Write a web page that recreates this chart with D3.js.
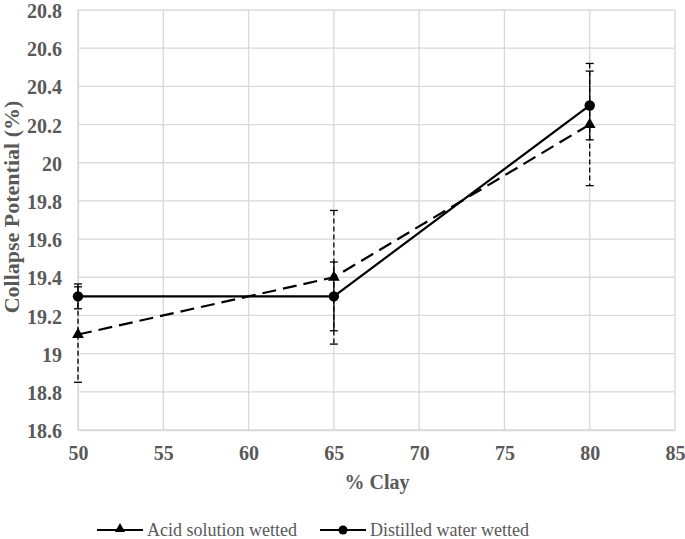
<!DOCTYPE html>
<html><head><meta charset="utf-8">
<script src="https://cdn.jsdelivr.net/npm/d3@7"></script>
<style>body{margin:0;background:#fff;}</style>
</head><body><svg id="c" width="685" height="539" font-family="Liberation Serif"></svg>
<script>
const clay = [50, 65, 80];
const acidValues = [19.1, 19.4, 20.2];
const acidErrors = [0.25, 0.35, 0.32];
const waterValues = [19.3, 19.3, 20.3];
const waterErrors = [0.065, 0.18, 0.18];
const xTicks = [50, 55, 60, 65, 70, 75, 80, 85];
const yTicks = [18.6, 18.8, 19, 19.2, 19.4, 19.6, 19.8, 20, 20.2, 20.4, 20.6, 20.8];
const seriesNames = ["Acid solution wetted", "Distilled water wetted"];

const FONT = "Liberation Serif";
const svg = d3.select("#c");
const L = 78, R = 675, T = 10, B = 430;
const x = d3.scaleLinear().domain([50, 85]).range([L, R]);
const y = d3.scaleLinear().domain([18.6, 20.8]).range([B, T]);
const grey = "#595959";

svg.append("g").selectAll("line").data(yTicks).join("line")
  .attr("x1", L).attr("x2", R).attr("y1", d => y(d)).attr("y2", d => y(d))
  .attr("stroke", "#d9d9d9").attr("stroke-width", 1.3);
svg.append("g").selectAll("line").data(xTicks).join("line")
  .attr("y1", T).attr("y2", B).attr("x1", d => x(d)).attr("x2", d => x(d))
  .attr("stroke", "#d9d9d9").attr("stroke-width", 1.3);

const yAxis = d3.axisLeft(y).tickValues(yTicks).tickSize(0).tickPadding(16).tickFormat(d => d3.format("")(+d.toFixed(1)));
const gy = svg.append("g").attr("transform", `translate(${L},0)`).call(yAxis).attr("font-family", FONT);
gy.select(".domain").attr("stroke", "#d9d9d9").attr("stroke-width", 1.3);
gy.selectAll("text").attr("font-family", FONT).attr("font-size", 20).attr("font-weight", "bold")
  .attr("fill", grey).attr("dy", "0.38em");

const xAxis = d3.axisBottom(x).tickValues(xTicks).tickSize(0).tickPadding(16);
const gx = svg.append("g").attr("transform", `translate(0,${B})`).call(xAxis).attr("font-family", FONT);
gx.select(".domain").attr("stroke", "#d9d9d9").attr("stroke-width", 1.3);
gx.selectAll("text").attr("font-family", FONT).attr("font-size", 20).attr("font-weight", "bold").attr("fill", grey);

svg.append("text").attr("x", 377).attr("y", 489).attr("text-anchor", "middle")
  .attr("font-family", FONT).attr("font-size", 20).attr("font-weight", "bold").attr("fill", grey).text("% Clay");
svg.append("text").attr("transform", `translate(19,207) rotate(-90)`).attr("text-anchor", "middle")
  .attr("font-family", FONT).attr("font-size", 22).attr("font-weight", "bold").attr("fill", grey).text("Collapse Potential (%)");

const acid = clay.map((c, i) => ({x: c, v: acidValues[i], e: acidErrors[i]}));
const water = clay.map((c, i) => ({x: c, v: waterValues[i], e: waterErrors[i]}));

function errorBars(data, dash) {
  const g = svg.append("g");
  g.selectAll("line.v").data(data).join("line")
    .attr("x1", d => x(d.x)).attr("x2", d => x(d.x))
    .attr("y1", d => y(d.v + d.e)).attr("y2", d => y(d.v - d.e))
    .attr("stroke", "#000").attr("stroke-width", 1.3).attr("stroke-dasharray", dash);
  [1, -1].forEach(s => {
    g.append("g").selectAll("line").data(data).join("line")
      .attr("x1", d => x(d.x) - 4).attr("x2", d => x(d.x) + 4)
      .attr("y1", d => y(d.v + s * d.e)).attr("y2", d => y(d.v + s * d.e))
      .attr("stroke", "#000").attr("stroke-width", 1.3);
  });
}
errorBars(acid, "5,3");
errorBars(water, null);

const line = d3.line().x(d => x(d.x)).y(d => y(d.v));
svg.append("path").datum(acid).attr("d", line).attr("fill", "none")
  .attr("stroke", "#000").attr("stroke-width", 2.2).attr("stroke-dasharray", "14,7");
svg.append("path").datum(water).attr("d", line).attr("fill", "none")
  .attr("stroke", "#000").attr("stroke-width", 2.2);

const tri = d3.symbol().type(d3.symbolTriangle).size(60);
svg.append("g").selectAll("path").data(acid).join("path")
  .attr("d", tri).attr("transform", d => `translate(${x(d.x)},${y(d.v)})`).attr("fill", "#000");
svg.append("g").selectAll("circle").data(water).join("circle")
  .attr("cx", d => x(d.x)).attr("cy", d => y(d.v)).attr("r", 5.2).attr("fill", "#000");

const leg = svg.append("g");
const lx = [97, 320];
seriesNames.forEach((n, i) => {
  const g = leg.append("g").attr("transform", `translate(${lx[i]},530)`);
  g.append("line").attr("x1", 0).attr("x2", 46).attr("y1", 0).attr("y2", 0).attr("stroke", "#000").attr("stroke-width", 2.2);
  if (i === 0) g.append("path").attr("d", d3.symbol().type(d3.symbolTriangle).size(45)).attr("transform", "translate(23,-1)").attr("fill", "#000");
  else g.append("circle").attr("cx", 23).attr("cy", 0).attr("r", 4.5).attr("fill", "#000");
  g.append("text").attr("x", 50).attr("y", 6).attr("font-family", FONT)
    .attr("font-size", 18).attr("fill", grey).text(n);
});
</script></body></html>
